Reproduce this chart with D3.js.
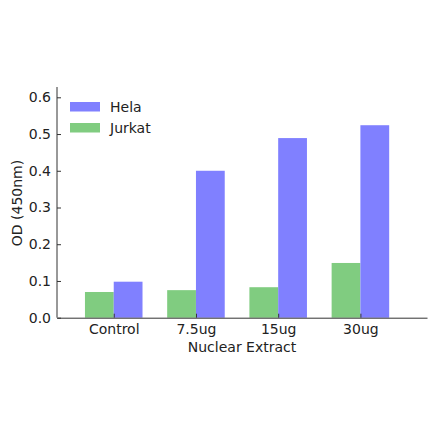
<!DOCTYPE html><html><head><script src="https://cdn.jsdelivr.net/npm/d3@7"></script>
<style>body{margin:0;background:#fff}text{font-family:"DejaVu Sans";fill:#222}</style></head><body>
<svg id="c" width="440" height="441"></svg>
<script>
const categories=["Control","7.5ug","15ug","30ug"];
const hela=[0.098,0.400,0.489,0.524];
const jurkat=[0.070,0.075,0.083,0.149];
const yTicks=[0,0.1,0.2,0.3,0.4,0.5,0.6];
const svg=d3.select("#c");
const x=d3.scaleLinear().domain([-0.34,4.16]).range([57,427]);
const y=d3.scaleLinear().domain([0,0.6]).range([317.7,97.3]);
const w=0.35;
svg.selectAll(".j").data(jurkat).join("rect").attr("x",(d,i)=>x(i)).attr("width",x(w)-x(0)).attr("y",d=>y(d)).attr("height",d=>y(0)-y(d)).attr("fill","#80cc80");
svg.selectAll(".h").data(hela).join("rect").attr("x",(d,i)=>x(i+w)).attr("width",x(w)-x(0)).attr("y",d=>y(d)).attr("height",d=>y(0)-y(d)).attr("fill","#8080ff");
const ya=d3.axisLeft(y).tickValues(yTicks).tickFormat(d3.format(".1f")).tickSizeInner(-4).tickSizeOuter(0).tickPadding(6);
const gy=svg.append("g").attr("transform","translate(57,0)").call(ya);
gy.select(".domain").remove();
svg.append("line").attr("x1",57).attr("x2",57).attr("y1",87).attr("y2",317.7).attr("stroke","#333");
const xa=d3.axisBottom(x).tickValues(categories.map((c,i)=>i+w)).tickFormat((d,i)=>categories[i]).tickSizeInner(-4).tickSizeOuter(0).tickPadding(6);
const gx=svg.append("g").attr("transform","translate(0,317.7)").call(xa);
gx.select(".domain").attr("stroke","#333");
svg.selectAll(".tick text").attr("font-size",14).attr("font-family","DejaVu Sans").attr("fill","#222");
svg.selectAll(".tick line").attr("stroke","#333");
svg.append("text").attr("x",242).attr("y",352).attr("text-anchor","middle").attr("font-size",14).text("Nuclear Extract");
svg.append("text").attr("transform","translate(22,203)rotate(-90)").attr("text-anchor","middle").attr("font-size",14).text("OD (450nm)");
const leg=[["Hela","#8080ff"],["Jurkat","#80cc80"]];
leg.forEach((l,i)=>{svg.append("rect").attr("x",70).attr("y",102+i*21).attr("width",30).attr("height",9.5).attr("fill",l[1]);
svg.append("text").attr("x",110).attr("y",111.5+i*21).attr("font-size",14).text(l[0]);});
</script></body></html>
